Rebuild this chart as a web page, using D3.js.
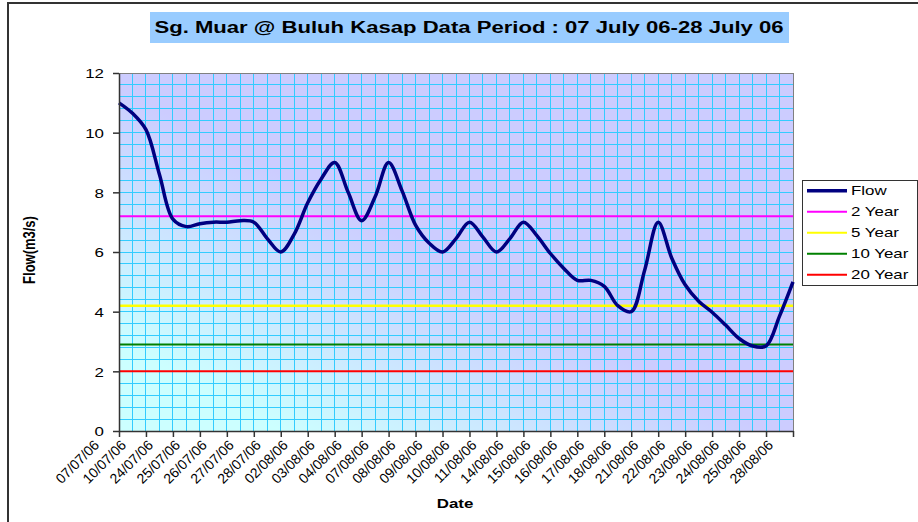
<!DOCTYPE html>
<html>
<head>
<meta charset="utf-8">
<script src="https://cdn.jsdelivr.net/npm/d3@7"></script>
<style>
  body { margin: 0; background: #fff; }
  svg { display: block; }
  text { font-family: "Liberation Sans", Arial, sans-serif; fill: #000; }
</style>
</head>
<body>
<svg id="chart" width="918" height="522"></svg>
<script>
// category labels under the x axis
const dateLabels = ['07/07/06', '10/07/06', '24/07/06', '25/07/06', '26/07/06', '27/07/06',
  '28/07/06', '02/08/06', '03/08/06', '04/08/06', '07/08/06', '08/08/06', '09/08/06',
  '10/08/06', '11/08/06', '14/08/06', '15/08/06', '16/08/06', '17/08/06', '18/08/06',
  '21/08/06', '22/08/06', '23/08/06', '24/08/06', '25/08/06', '28/08/06'];

// flow read every half category step (m3/s)
const flowValues = [11.0, 10.65, 10.1, 8.6, 7.1, 6.85, 6.95, 7.0, 7.0, 7.05,
  7.0, 6.45, 6.0, 6.6, 7.65, 8.45, 9.0, 8.0, 7.05, 7.85,
  9.0, 8.05, 6.9, 6.3, 6.0, 6.45, 7.0, 6.5, 6.0, 6.45,
  7.0, 6.55, 5.95, 5.45, 5.05, 5.05, 4.85, 4.2, 4.0, 5.4,
  7.0, 5.8, 4.9, 4.35, 3.98, 3.55, 3.1, 2.85, 2.85, 3.85,
  5.0];

// return period design flows
const periodNames = ['2 Year', '5 Year', '10 Year', '20 Year'];
const periodFlows = [7.2, 4.2, 2.9, 2.0];
const periodColors = ['#ff00ff', '#ffff00', '#008000', '#ff0000'];

const yTicks = [0, 2, 4, 6, 8, 10, 12];

const svg = d3.select('#chart');
const stretch = 1.3;

const plotLeft = 119, plotRight = 793, plotTop = 73, plotBottom = 431;
const x = d3.scaleLinear().domain([0, dateLabels.length - 1]).range([plotLeft, plotRight]);
const y = d3.scaleLinear().domain([0, 12]).range([plotBottom, plotTop]);

// outer frame
svg.append('rect')
  .attr('x', 8).attr('y', 3)
  .attr('width', 940).attr('height', 560)
  .attr('fill', '#fff')
  .attr('stroke', '#333')
  .attr('stroke-width', 2);

// title
svg.append('rect')
  .attr('x', 150).attr('y', 12)
  .attr('width', 639).attr('height', 31)
  .attr('fill', '#99ccff');
svg.append('text')
  .attr('transform', `translate(469,33) scale(${stretch},1)`)
  .attr('text-anchor', 'middle')
  .attr('font-size', 17)
  .attr('font-weight', 'bold')
  .text('Sg. Muar @ Buluh Kasap Data Period : 07 July 06-28 July 06');

// plot background gradient
const defs = svg.append('defs');
const grad = defs.append('linearGradient')
  .attr('id', 'plotBg')
  .attr('x1', 0).attr('y1', 1).attr('x2', 1).attr('y2', 0);
grad.append('stop').attr('offset', 0).attr('stop-color', '#ccffff');
grad.append('stop').attr('offset', 0.12).attr('stop-color', '#ccffff');
grad.append('stop').attr('offset', 0.48).attr('stop-color', '#ccccff');
grad.append('stop').attr('offset', 1).attr('stop-color', '#ccccff');

svg.append('rect')
  .attr('x', plotLeft).attr('y', plotTop)
  .attr('width', plotRight - plotLeft).attr('height', plotBottom - plotTop)
  .attr('fill', 'url(#plotBg)');

// grid
const grid = svg.append('g')
  .attr('stroke', '#33ccff')
  .attr('stroke-width', 1)
  .attr('shape-rendering', 'crispEdges');

grid.selectAll('line.v')
  .data(d3.range(0.5, dateLabels.length - 1, 0.5))
  .join('line')
  .attr('class', 'v')
  .attr('x1', d => x(d)).attr('x2', d => x(d))
  .attr('y1', plotTop).attr('y2', plotBottom);

grid.selectAll('line.h')
  .data(d3.range(0.4, 12, 0.4))
  .join('line')
  .attr('class', 'h')
  .attr('x1', plotLeft).attr('x2', plotRight)
  .attr('y1', d => y(d)).attr('y2', d => y(d));

svg.append('rect')
  .attr('x', plotLeft).attr('y', plotTop)
  .attr('width', plotRight - plotLeft).attr('height', plotBottom - plotTop)
  .attr('fill', 'none')
  .attr('stroke', '#808080')
  .attr('shape-rendering', 'crispEdges');

// return period lines
periodFlows.forEach((v, i) => {
  svg.append('line')
    .attr('x1', plotLeft).attr('x2', plotRight)
    .attr('y1', y(v)).attr('y2', y(v))
    .attr('stroke', periodColors[i])
    .attr('stroke-width', i === 1 ? 2.5 : 2);
});

// flow line
const flowLine = d3.line()
  .x((d, i) => x(i / 2))
  .y(d => y(d))
  .curve(d3.curveCatmullRom.alpha(0.5));

svg.append('path')
  .attr('d', flowLine(flowValues))
  .attr('fill', 'none')
  .attr('stroke', '#000080')
  .attr('stroke-width', 3.5)
  .attr('stroke-linejoin', 'round');

// y axis
const yAxis = svg.append('g')
  .attr('transform', `translate(${plotLeft},0)`)
  .call(d3.axisLeft(y).tickValues(yTicks).tickSize(6).tickSizeOuter(0));
yAxis.select('.domain').attr('stroke', '#333').attr('stroke-width', 1.5);
yAxis.selectAll('.tick line').attr('stroke', '#333').attr('stroke-width', 1.5);
yAxis.selectAll('.tick text')
  .attr('x', 0)
  .attr('dy', '0.36em')
  .attr('transform', `translate(-15,0) scale(${stretch},1)`)
  .attr('font-size', 13)
  .attr('font-family', '"Liberation Sans", Arial, sans-serif')
  .attr('fill', '#000');

// x axis
const xAxis = svg.append('g')
  .attr('transform', `translate(0,${plotBottom})`)
  .call(d3.axisBottom(x).tickValues(d3.range(dateLabels.length)).tickSize(6)
    .tickSizeOuter(0).tickFormat(''));
xAxis.select('.domain').attr('stroke', '#333').attr('stroke-width', 1.5);
xAxis.selectAll('.tick line').attr('stroke', '#333').attr('stroke-width', 1.5);

svg.append('g').selectAll('text')
  .data(dateLabels)
  .join('text')
  .attr('transform', (d, i) => `translate(${x(i - 1) + 8},446) rotate(-45)`)
  .attr('text-anchor', 'end')
  .attr('font-size', 14)
  .text(d => d);

// axis titles
svg.append('text')
  .attr('transform', `translate(455,508) scale(${stretch},1)`)
  .attr('text-anchor', 'middle')
  .attr('font-size', 13)
  .attr('font-weight', 'bold')
  .text('Date');

svg.append('text')
  .attr('transform', `translate(35,250) scale(${stretch},1) rotate(-90)`)
  .attr('text-anchor', 'middle')
  .attr('font-size', 13)
  .attr('font-weight', 'bold')
  .text('Flow(m3/s)');

// legend
const legendNames = ['Flow'].concat(periodNames);
const legendColors = ['#000080'].concat(periodColors);

svg.append('rect')
  .attr('x', 802).attr('y', 180)
  .attr('width', 115).attr('height', 105)
  .attr('fill', '#fff')
  .attr('stroke', '#333')
  .attr('shape-rendering', 'crispEdges');

const legendItem = svg.append('g').selectAll('g')
  .data(legendNames)
  .join('g')
  .attr('transform', (d, i) => `translate(807,${190.7 + i * 21})`);

legendItem.append('line')
  .attr('x1', 0).attr('x2', 40)
  .attr('stroke', (d, i) => legendColors[i])
  .attr('stroke-width', (d, i) => i === 0 ? 3.5 : 2);

legendItem.append('text')
  .attr('transform', `translate(44,4.5) scale(${stretch},1)`)
  .attr('font-size', 13)
  .text(d => d);
</script>
</body>
</html>
